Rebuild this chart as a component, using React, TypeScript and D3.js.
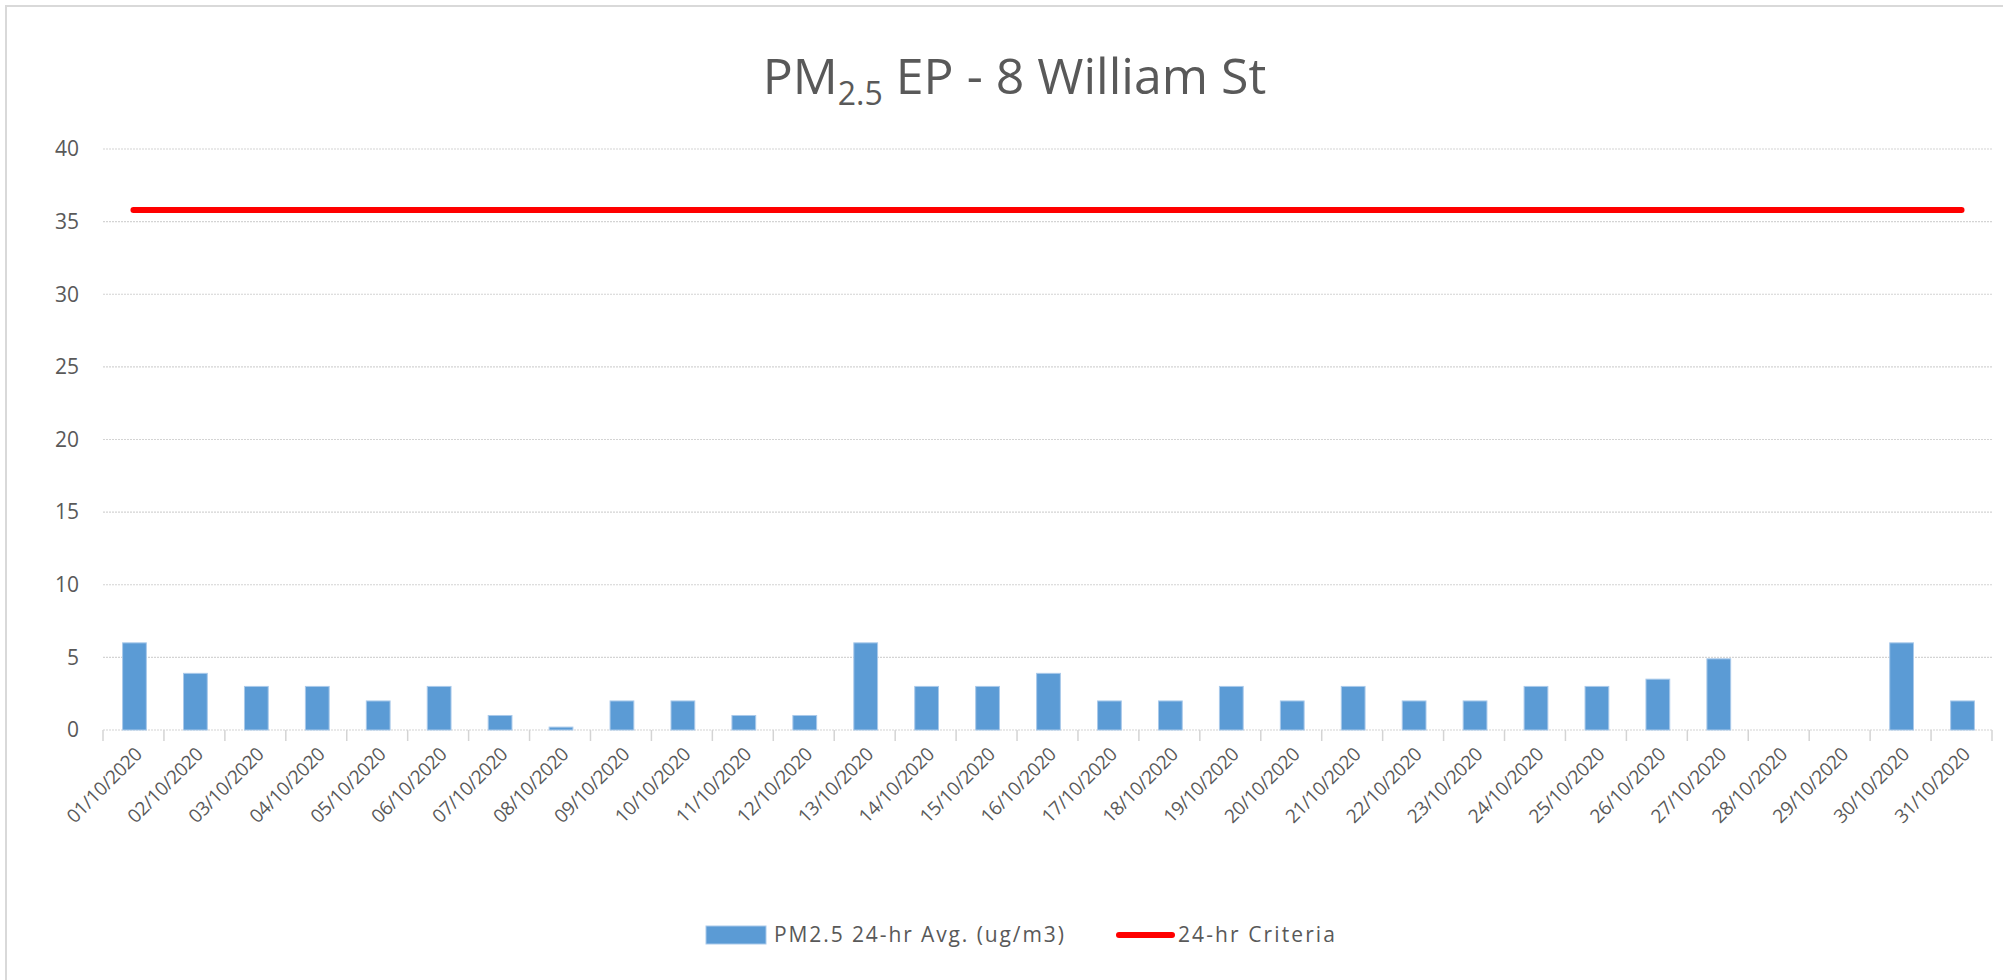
import React from 'react';
import * as d3 from 'd3';

// Data
const dates = [
  '01/10/2020', '02/10/2020', '03/10/2020', '04/10/2020', '05/10/2020', '06/10/2020',
  '07/10/2020', '08/10/2020', '09/10/2020', '10/10/2020', '11/10/2020', '12/10/2020',
  '13/10/2020', '14/10/2020', '15/10/2020', '16/10/2020', '17/10/2020', '18/10/2020',
  '19/10/2020', '20/10/2020', '21/10/2020', '22/10/2020', '23/10/2020', '24/10/2020',
  '25/10/2020', '26/10/2020', '27/10/2020', '28/10/2020', '29/10/2020', '30/10/2020',
  '31/10/2020',
];
const pm25 = [
  6, 3.9, 3, 3, 2, 3, 1, 0.2, 2, 2, 1, 1, 6, 3, 3, 3.9, 2, 2, 3, 2, 3, 2, 2, 3, 3, 3.5,
  4.9, 0, 0, 6, 2,
];
const criteria = dates.map(() => 35.8);
const yTicks = [0, 5, 10, 15, 20, 25, 30, 35, 40];

const W = 2003;
const H = 980;
const margin = { top: 149, right: 11, bottom: 250, left: 103 };
const FONT = '"Open Sans", "Noto Sans", sans-serif';
const GRAY = '#595959';

const App = () => {
  const x = d3.scaleBand<string>()
    .domain(dates)
    .range([margin.left, W - margin.right])
    .padding(0);

  const y = d3.scaleLinear()
    .domain([0, 40])
    .range([H - margin.bottom, margin.top]);

  const barW = x.bandwidth() * 0.39;
  const line = d3.line<number>()
    .x((_, i) => x(dates[i])! + x.bandwidth() / 2)
    .y(d => y(d));

  const x0 = margin.left;
  const x1 = W - margin.right;
  const y0 = y(0);

  return (
    <svg width={W} height={H} style={{ position: 'absolute', left: 0, top: 0, background: '#fff' }}
      fontFamily={FONT}>
      {/* chart border */}
      <rect x={6} y={6} width={W + 10} height={H + 10} fill="none" stroke="#d9d9d9" strokeWidth={2} />

      {/* title */}
      <text x={W / 2 + 13} y={94} textAnchor="middle" fontSize={50} fill={GRAY}>
        PM<tspan fontSize={32} dy={11}>2.5</tspan><tspan dy={-11}> EP - 8 William St</tspan>
      </text>

      {/* grid + y labels */}
      {yTicks.map(t => (
        <g key={t}>
          <line x1={x0} x2={x1} y1={y(t)} y2={y(t)} stroke="#d4d4d4" strokeWidth={1.2}
            strokeDasharray="2,1" />
          <text x={79} y={y(t)} dy="0.35em" textAnchor="end" fontSize={21} fill={GRAY}>{t}</text>
        </g>
      ))}

      {/* x ticks */}
      {dates.map(d => (
        <line key={d} x1={x(d)!} x2={x(d)!} y1={y0} y2={y0 + 11} stroke="#d4d4d4" strokeWidth={1.5} />
      ))}
      <line x1={x1} x2={x1} y1={y0} y2={y0 + 11} stroke="#d4d4d4" strokeWidth={1.5} />

      {/* bars */}
      {pm25.map((v, i) => (
        <rect key={i}
          x={x(dates[i])! + x.bandwidth() / 2 - barW / 2 + 1}
          y={y(v)}
          width={barW}
          height={y0 - y(v)}
          fill="#5b9bd5"
          stroke="#a9c9ea"
          strokeWidth={v > 0 ? 1 : 0} />
      ))}

      {/* criteria line */}
      <path d={line(criteria)!} fill="none" stroke="#ff0000" strokeWidth={6} strokeLinecap="round" />

      {/* x labels */}
      {dates.map(d => {
        const cx = x(d)! + x.bandwidth() / 2 + 5;
        const cy = y0 + 21;
        return (
          <text key={d} x={cx} y={cy} transform={`rotate(-45 ${cx} ${cy})`} textAnchor="end"
            dy="0.35em" fontSize={19} letterSpacing={-0.4} fill={GRAY}>{d}</text>
        );
      })}

      {/* legend */}
      <rect x={706} y={926} width={60} height={18} fill="#5b9bd5" stroke="#a9c9ea" strokeWidth={1} />
      <text x={774} y={935} dy="0.35em" fontSize={21} letterSpacing={1.9} fill={GRAY}>PM2.5 24-hr Avg. (ug/m3)</text>
      <line x1={1119} x2={1172} y1={935} y2={935} stroke="#ff0000" strokeWidth={6} strokeLinecap="round" />
      <text x={1178} y={935} dy="0.35em" fontSize={21} letterSpacing={2.1} fill={GRAY}>24-hr Criteria</text>
    </svg>
  );
};

export default App;
